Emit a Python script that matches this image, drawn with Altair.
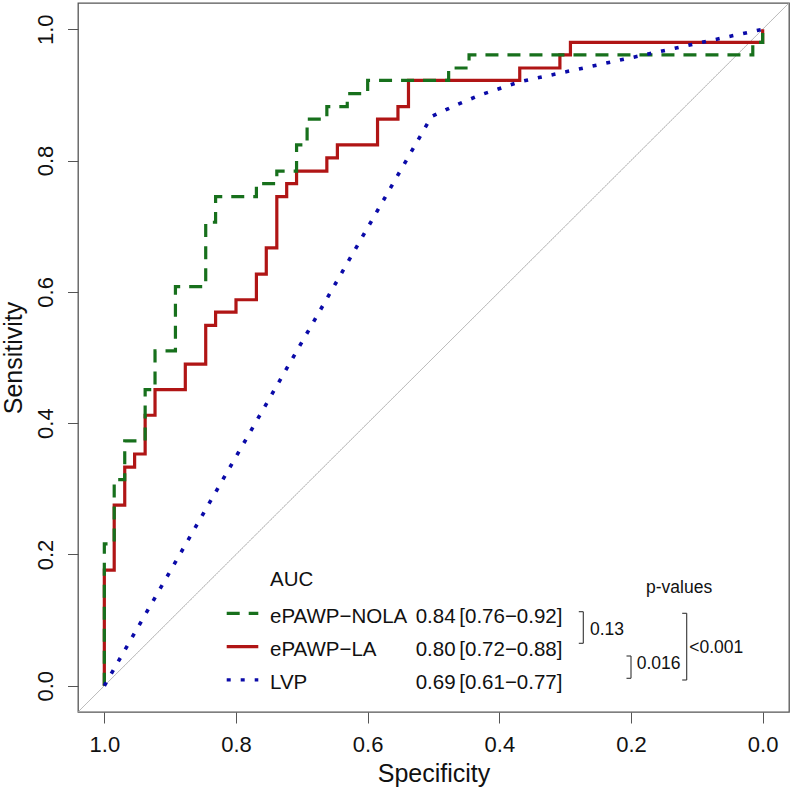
import altair as alt
import pandas as pd

# ROC coordinates (specificity, sensitivity) at each threshold
nola_spec = [1.0, 1.0, 0.985, 0.985, 0.969, 0.969, 0.938, 0.938, 0.923, 0.923,
             0.892, 0.892, 0.846, 0.846, 0.831, 0.831, 0.769, 0.769, 0.738, 0.738,
             0.708, 0.708, 0.692, 0.692, 0.662, 0.662, 0.631, 0.631, 0.600, 0.600,
             0.477, 0.477, 0.446, 0.446, 0.015, 0.015, 0.0, 0.0]
nola_sens = [0.0, 0.216, 0.216, 0.314, 0.314, 0.373, 0.373, 0.451, 0.451, 0.510,
             0.510, 0.608, 0.608, 0.706, 0.706, 0.745, 0.745, 0.765, 0.765, 0.784,
             0.784, 0.824, 0.824, 0.863, 0.863, 0.882, 0.882, 0.902, 0.902, 0.922,
             0.922, 0.941, 0.941, 0.961, 0.961, 0.980, 0.980, 1.0]

la_spec = [1.0, 1.0, 0.985, 0.985, 0.969, 0.969, 0.954, 0.954, 0.938, 0.938,
           0.923, 0.923, 0.877, 0.877, 0.846, 0.846, 0.831, 0.831, 0.800, 0.800,
           0.769, 0.769, 0.754, 0.754, 0.738, 0.738, 0.723, 0.723, 0.708, 0.708,
           0.662, 0.662, 0.646, 0.646, 0.585, 0.585, 0.554, 0.554, 0.538, 0.538,
           0.369, 0.369, 0.308, 0.308, 0.292, 0.292, 0.0, 0.0]
la_sens = [0.0, 0.176, 0.176, 0.275, 0.275, 0.333, 0.333, 0.353, 0.353, 0.412,
           0.412, 0.451, 0.451, 0.490, 0.490, 0.549, 0.549, 0.569, 0.569, 0.588,
           0.588, 0.627, 0.627, 0.667, 0.667, 0.745, 0.745, 0.765, 0.765, 0.784,
           0.784, 0.804, 0.804, 0.824, 0.824, 0.863, 0.863, 0.882, 0.882, 0.922,
           0.922, 0.941, 0.941, 0.961, 0.961, 0.980, 0.980, 1.0]

lvp_spec = [1.0, 0.503, 0.467, 0.429, 0.369, 0.0]
lvp_sens = [0.0, 0.867, 0.884, 0.900, 0.920, 1.0]

# chance diagonal across the full padded range
diag_spec = [1.04, -0.04]
diag_sens = [-0.04, 1.04]

series_names = ["ePAWP\u2212NOLA", "ePAWP\u2212LA", "LVP"]
series_colors = ["#17701c", "#b01515", "#0a0aa8"]
auc_values = ["0.84", "0.80", "0.69"]
auc_ci = ["[0.76\u22120.92]", "[0.72\u22120.88]", "[0.61\u22120.77]"]
p_values = ["0.13", "0.016", "<0.001"]
tick_values = [0.0, 0.2, 0.4, 0.6, 0.8, 1.0]

W, H = 711, 709
FONT = "Liberation Sans, Arial, Helvetica, sans-serif"
PFONT = "Liberation Sans, Arial, sans-serif"
INK = "#111111"

x_scale = alt.Scale(domain=[-0.04, 1.04], reverse=True, nice=False, zero=False)
y_scale = alt.Scale(domain=[-0.04, 1.04], nice=False, zero=False)

x_axis = alt.Axis(
    values=tick_values, format=".1f", title="Specificity", grid=False, domain=False,
    tickSize=11, tickColor="#555555", tickWidth=1,
    labelFont=FONT, labelFontSize=22, labelColor=INK,
    labelBaseline="alphabetic", labelPadding=28, labelOverlap=False, labelFlush=False,
    titleFont=FONT, titleFontSize=25, titleFontWeight="normal", titleColor=INK,
    titleBaseline="alphabetic", titleAlign="center", titleX=W / 2, titleY=69,
)
y_axis = alt.Axis(
    values=tick_values, format=".1f", title="Sensitivity", grid=False, domain=False,
    tickSize=10.5, tickColor="#555555", tickWidth=1,
    labelFont=FONT, labelFontSize=22, labelColor=INK, labelAngle=270,
    labelAlign="center", labelBaseline="alphabetic", labelPadding=15,
    labelOverlap=False, labelFlush=False,
    titleFont=FONT, titleFontSize=25, titleFontWeight="normal", titleColor=INK,
    titleAngle=270, titleBaseline="alphabetic", titleAlign="center",
    titleX=-57, titleY=H / 2,
)


def curve(spec, sens, color, dash, width):
    df = pd.DataFrame({"spec": spec, "sens": sens, "i": list(range(len(spec)))})
    return alt.Chart(df).mark_line(
        color=color, strokeDash=dash, strokeWidth=width,
        strokeCap="butt", strokeJoin="miter", clip=True,
    ).encode(
        x=alt.X("spec:Q", scale=x_scale, axis=x_axis),
        y=alt.Y("sens:Q", scale=y_scale, axis=y_axis),
        order="i:Q",
    )


diag = curve(diag_spec, diag_sens, "#aaaaaa", [1, 0], 1)
la_line = curve(la_spec, la_sens, series_colors[1], [1, 0], 3.2)
nola_line = curve(nola_spec, nola_sens, series_colors[0], [13, 9], 3.2)
lvp_line = curve(lvp_spec, lvp_sens, series_colors[2], [4, 10], 3.6)

# legend block: "AUC" header, then one row per series
LEG_X_LINE0, LEG_X_LINE1 = 148.7, 180.3
LEG_X_NAME, LEG_X_AUC, LEG_X_CI = 192, 337.7, 381.3
ROW0, ROW_GAP = 619.7, 33.3
LEG_FS = 20.5

leg_df = pd.DataFrame({
    "name": series_names, "auc": auc_values, "ci": auc_ci, "row": [0, 1, 2],
})
leg_base = alt.Chart(leg_df).transform_calculate(
    ty=f"{ROW0} + datum.row * {ROW_GAP}",
    ly=f"{ROW0} + datum.row * {ROW_GAP} - 9.4",
)
leg_lines = leg_base.mark_rule(strokeWidth=3.2, strokeCap="butt").encode(
    x=alt.value(LEG_X_LINE0), x2=alt.value(LEG_X_LINE1),
    y=alt.Y("ly:Q", scale=None),
    color=alt.Color("name:N", scale=alt.Scale(domain=series_names, range=series_colors), legend=None),
    strokeDash=alt.StrokeDash("name:N", scale=alt.Scale(domain=series_names, range=[[13, 9], [1, 0], [4, 10]]), legend=None),
)


def leg_text(field, x):
    return leg_base.mark_text(
        align="left", baseline="alphabetic", font=FONT, fontSize=LEG_FS, color=INK,
    ).encode(x=alt.value(x), y=alt.Y("ty:Q", scale=None), text=f"{field}:N")


auc_head = alt.Chart(pd.DataFrame({"t": ["AUC"]})).mark_text(
    align="left", baseline="alphabetic", font=FONT, fontSize=LEG_FS, color=INK,
).encode(x=alt.value(LEG_X_NAME), y=alt.value(582.7), text="t:N")

# pairwise comparison brackets with their p-values
br_df = pd.DataFrame({
    "bx": [505.3, 553.0, 608.7],
    "top": [608.7, 653.0, 610.3],
    "bot": [640.3, 675.3, 677.0],
})
br_base = alt.Chart(br_df).transform_calculate(bx0="datum.bx - 4.5")
br_style = dict(color="#333333", strokeWidth=1.1)
br_vert = br_base.mark_rule(**br_style).encode(
    x=alt.X("bx:Q", scale=None), y=alt.Y("top:Q", scale=None), y2="bot:Q")
br_top = br_base.mark_rule(**br_style).encode(
    x=alt.X("bx0:Q", scale=None), x2="bx:Q", y=alt.Y("top:Q", scale=None))
br_bot = br_base.mark_rule(**br_style).encode(
    x=alt.X("bx0:Q", scale=None), x2="bx:Q", y=alt.Y("bot:Q", scale=None))

pv_df = pd.DataFrame({
    "t": p_values + ["p-values"],
    "px": [512.0, 558.7, 611.3, 568.0],
    "py": [632.0, 666.3, 649.7, 590.0],
})
pv_text = alt.Chart(pv_df).mark_text(
    align="left", baseline="alphabetic", font=PFONT, fontSize=17.5, color=INK,
).encode(x=alt.X("px:Q", scale=None), y=alt.Y("py:Q", scale=None), text="t:N")

chart = alt.layer(
    diag, la_line, nola_line, lvp_line,
    leg_lines, auc_head,
    leg_text("name", LEG_X_NAME), leg_text("auc", LEG_X_AUC), leg_text("ci", LEG_X_CI),
    br_vert, br_top, br_bot, pv_text,
).properties(
    width=W, height=H,
    autosize=alt.AutoSizeParams(type="none"),
    padding={"left": 78, "top": 3, "right": 3, "bottom": 78},
    background="white",
).configure_view(stroke="#555555", strokeWidth=1.3)

chart.save("out.html", embed_options={"renderer": "svg", "actions": False})
